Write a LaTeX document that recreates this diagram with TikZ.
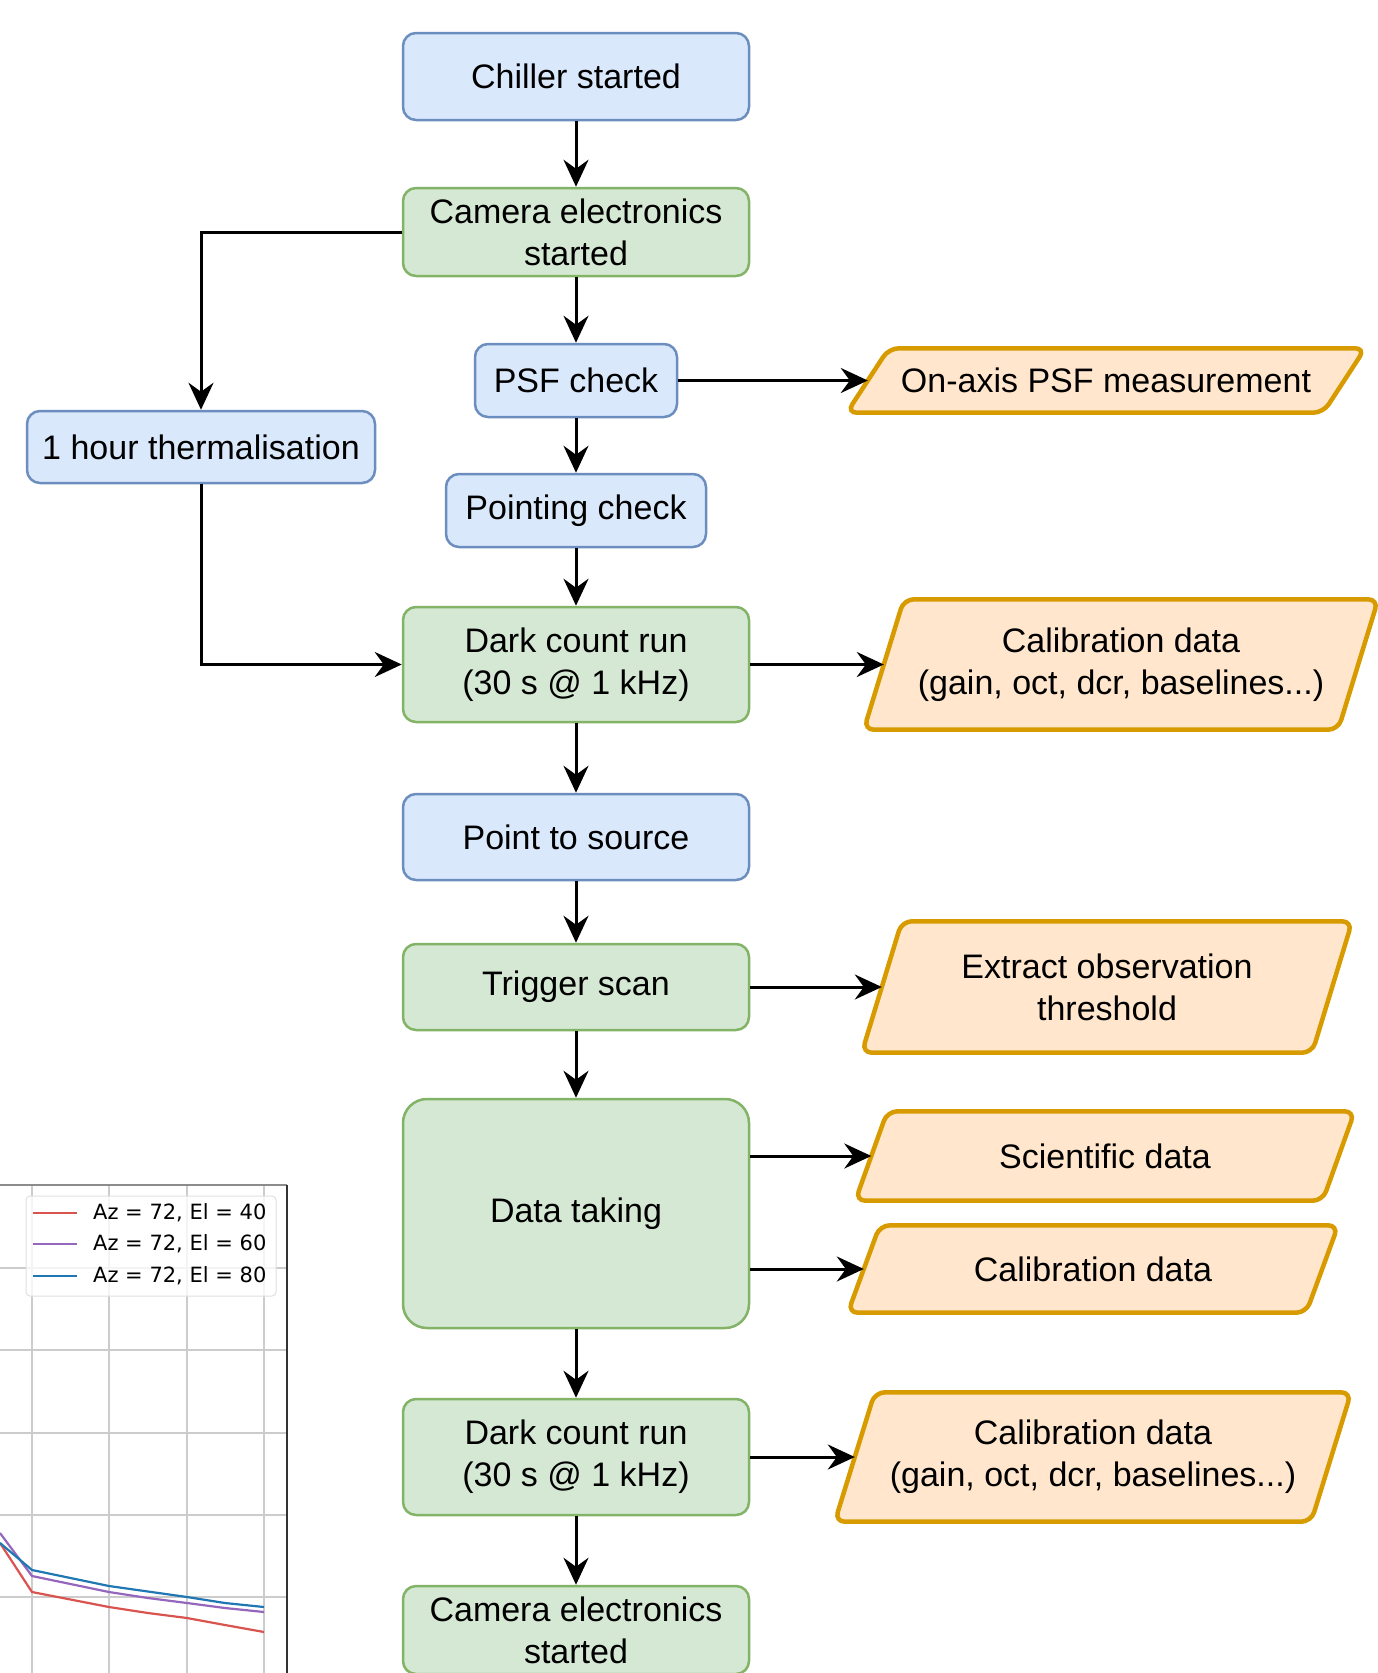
\documentclass[tikz,border=0pt]{standalone}
\usepackage{fontspec}
\setmainfont{Liberation Sans}
\newfontfamily\legfont{DejaVu Sans}
\usetikzlibrary{arrows.meta,backgrounds}

\definecolor{bfill}{HTML}{DAE8FC}
\definecolor{bline}{HTML}{6C8EBF}
\definecolor{gfill}{HTML}{D5E8D4}
\definecolor{gline}{HTML}{82B366}
\definecolor{ofill}{HTML}{FFE6CC}
\definecolor{oline}{HTML}{D79B00}
\definecolor{pred}{HTML}{D9534F}
\definecolor{ppurple}{HTML}{9467BD}
\definecolor{pblue}{HTML}{1F77B4}

\tikzset{
  flowbox/.style={rounded corners=13pt, line width=2.5pt, minimum width=346pt, inner sep=0pt,
    align=center, font=\fontsize{34}{42}\selectfont},
  bluebox/.style={flowbox, fill=bfill, draw=bline},
  greenbox/.style={flowbox, fill=gfill, draw=gline},
  outbox/.style={inner sep=0pt, align=center, font=\fontsize{34}{42}\selectfont},
  slanted/.style={fill=ofill, draw=oline, line width=4.5pt, rounded corners=10pt},
  flow/.style={line width=3pt, -{Stealth[length=27pt,width=25pt,inset=9pt]}},
}

\begin{document}
\begin{tikzpicture}[x=1pt,y=-1pt]
\useasboundingbox (0,0) rectangle (1378,1673);

% piece of the plot behind, bottom left
\foreach \x in {32,109,187,264}
  \draw[black!20, line width=1.2pt] (\x,1185) -- (\x,1673);
\foreach \y in {1268,1350,1433,1515,1597}
  \draw[black!20, line width=1.2pt] (0,\y) -- (287,\y);
\draw[black!45, line width=1.5pt] (0,1185) -- (287,1185);
\draw[black!80, line width=1.5pt] (287,1185) -- (287,1673);
\draw[pred, line width=2.2pt] (0,1543) -- (32,1592) -- (109,1607) -- (148,1613) -- (187,1618) -- (225,1625) -- (264,1632);
\draw[ppurple, line width=2.2pt] (0,1533) -- (32,1576) -- (109,1592) -- (148,1598) -- (187,1603) -- (225,1608) -- (264,1612);
\draw[pblue, line width=2.2pt] (0,1543) -- (32,1570) -- (109,1586) -- (187,1597) -- (225,1603) -- (264,1607);
\filldraw[fill=white, fill opacity=0.8, draw=black!12, rounded corners=4pt, line width=1pt] (26,1196) rectangle (276,1296);
\foreach \y/\c/\e in {1213/pred/40, 1244/ppurple/60, 1276/pblue/80} {
  \draw[\c, line width=2.2pt] (33,\y) -- (77,\y);
  \node[anchor=west, inner sep=0pt, font=\legfont\fontsize{21}{25}\selectfont] (leg\e) at (93,\y) {Az = 72, El = \e};
}

% steps
\node[bluebox, minimum height=87pt] (chiller) at (576,76.5) {Chiller started};
\node[greenbox, minimum height=88pt] (camon) at (576,232) {Camera electronics\\started};
\node[bluebox, minimum width=202pt, minimum height=73pt] (psf) at (576,380.5) {PSF check};
\node[bluebox, minimum width=348pt, minimum height=72pt] (therm) at (201,447) {1 hour thermalisation};
\node[bluebox, minimum width=260pt, minimum height=73pt] (pointing) at (576,510.5) {Pointing check};
\node[greenbox, minimum height=115pt] (dark) at (576,664.5) {Dark count run\\(30 s @ 1 kHz)};
\node[bluebox, minimum height=86pt] (source) at (576,837) {Point to source};
\node[greenbox, minimum height=86pt] (trig) at (576,987) {Trigger scan};
\node[greenbox, minimum height=229pt, rounded corners=24pt] (dtake) at (576,1213.5) {Data taking};
\node[greenbox, minimum height=116pt] (darktwo) at (576,1457) {Dark count run\\(30 s @ 1 kHz)};
\node[greenbox, minimum height=88pt] (camoff) at (576,1630) {Camera electronics\\started};

% outputs
\node[outbox, minimum width=476pt, minimum height=64pt] (onaxis) at (1106,380.5) {On-axis PSF measurement};
\node[outbox, minimum width=474pt, minimum height=130pt] (calib) at (1121,664.5) {Calibration data\\(gain, oct, dcr, baselines...)};
\node[outbox, minimum width=450pt, minimum height=131pt] (thresh) at (1107,987) {Extract observation\\threshold};
\node[outbox, minimum width=467pt, minimum height=89pt] (sci) at (1105,1156) {Scientific data};
\node[outbox, minimum width=458pt, minimum height=87pt] (calibtwo) at (1093,1269) {Calibration data};
\node[outbox, minimum width=476pt, minimum height=129pt] (calibthree) at (1093,1457) {Calibration data\\(gain, oct, dcr, baselines...)};

\begin{scope}[on background layer]
\foreach \n/\s in {onaxis/21, calib/20, thresh/20, sci/16, calibtwo/16, calibthree/20}
  \draw[slanted] ([xshift=\s pt]\n.north west) -- ([xshift=\s pt]\n.north east)
    -- ([xshift=-\s pt]\n.south east) -- ([xshift=-\s pt]\n.south west) -- cycle;
\end{scope}

% arrows
\draw[flow] (chiller) -- (camon);
\draw[flow] (camon) -- (psf);
\draw[flow] (camon.west) -| (therm.north);
\draw[flow] (psf) -- (onaxis.west);
\draw[flow] (psf) -- (pointing);
\draw[flow] (pointing) -- (dark);
\draw[flow] (therm.south) |- (dark.west);
\draw[flow] (dark) -- (calib.west);
\draw[flow] (dark) -- (source);
\draw[flow] (source) -- (trig);
\draw[flow] (trig) -- (thresh.west);
\draw[flow] (trig) -- (dtake);
\draw[flow] (dtake.east |- sci) -- (sci.west);
\draw[flow] (dtake.east |- calibtwo) -- (calibtwo.west);
\draw[flow] (dtake) -- (darktwo);
\draw[flow] (darktwo) -- (calibthree.west);
\draw[flow] (darktwo) -- (camoff);
\end{tikzpicture}
\end{document}
